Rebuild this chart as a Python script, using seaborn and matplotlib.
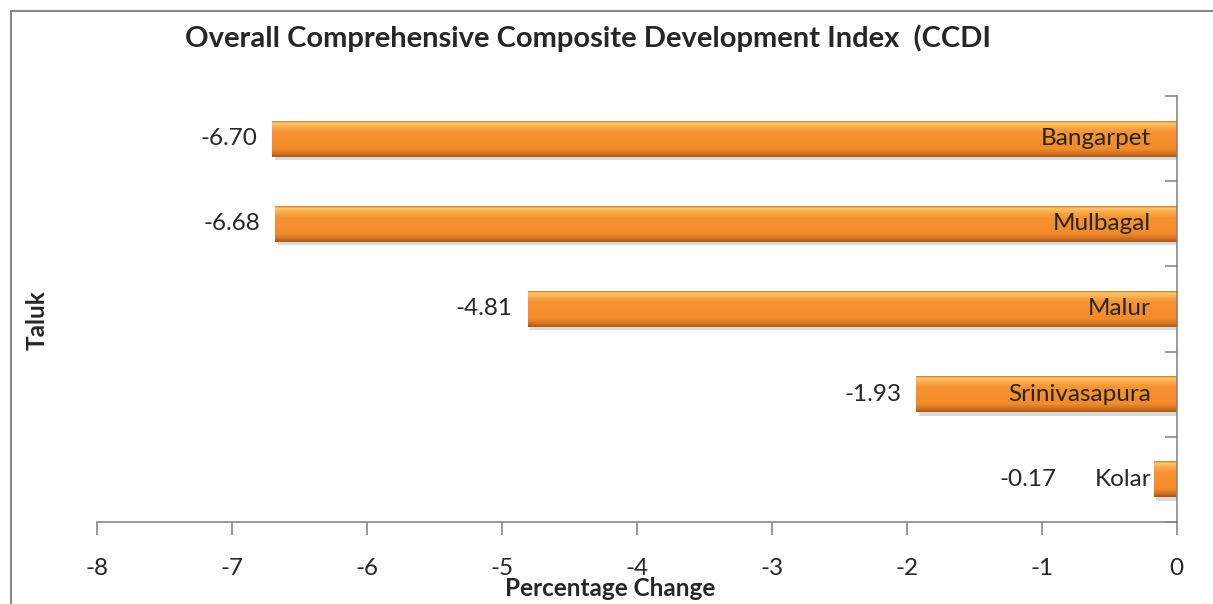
import numpy as np
import pandas as pd
import seaborn as sns
import matplotlib.pyplot as plt
from matplotlib.patches import Rectangle
from matplotlib.colors import LinearSegmentedColormap

# data
taluks = ["Bangarpet", "Mulbagal", "Malur", "Srinivasapura", "Kolar"]
change = [-6.70, -6.68, -4.81, -1.93, -0.17]

df = pd.DataFrame({"Taluk": taluks, "Change": change})

sns.set_style("white")
plt.rcParams['font.family'] = ['Lato', 'DejaVu Sans']

fig = plt.figure(figsize=(12.13, 6.04), dpi=100)
ax = fig.add_axes([0.080, 0.136, 0.890, 0.705])

sns.barplot(data=df, x="Change", y="Taluk", orient="h", color="#F79030",
            width=0.42, edgecolor="none", linewidth=0, ax=ax, saturation=1)

# vertical gradient for the bevelled bars
grad = LinearSegmentedColormap.from_list("bevel", [
    (0.0, "#E07A22"), (0.05, "#FCC96C"), (0.18, "#FAA748"),
    (0.32, "#F79232"), (0.78, "#F28B2A"), (0.9, "#D4741F"), (1.0, "#A85A18")])
col = np.linspace(0, 1, 64).reshape(-1, 1)

for p in list(ax.patches):
    x0, y0 = p.get_x(), p.get_y()
    w, h = p.get_width(), p.get_height()
    # soft shadow under the bar
    ax.add_patch(Rectangle((x0 + 0.02, y0 + h * 0.1), w, h, facecolor="#999999",
                           alpha=0.35, edgecolor="none", zorder=1))
    im = ax.imshow(col, cmap=grad, aspect="auto", origin="upper",
                   extent=(x0, x0 + w, y0 + h, y0), zorder=2)
    im.set_clip_path(p)
    p.set_zorder(2)

ax.set_xlim(-8, 0)
ax.set_ylim(4.5, -0.5)
ax.set_xticks(range(-8, 1))
ax.set_xticklabels([str(v) for v in range(-8, 1)], fontsize=17.5)

# right axis with ticks between categories
ax.yaxis.tick_right()
ax.set_yticks(np.arange(-0.5, 5, 1))
ax.set_yticklabels([])
ax.tick_params(axis="y", direction="in", length=9, color="#888888", width=1.2, right=True, left=False)
ax.tick_params(axis="x", direction="out", length=9, color="#888888", width=1.2, bottom=True, pad=17)

for s in ["top", "left"]:
    ax.spines[s].set_visible(False)
for s in ["right", "bottom"]:
    ax.spines[s].set_color("#888888")
    ax.spines[s].set_linewidth(1.2)
    ax.spines[s].set_zorder(3)

# labels: name inside the bar end, value outside; short bars push the value left
for i, (t, v) in enumerate(zip(taluks, change)):
    vx = v - 0.11 if v < -1 else -0.89
    ax.text(vx, i, f"{v:.2f}", ha="right", va="center", fontsize=17.5)
    ax.text(-0.19, i, t, ha="right", va="center", fontsize=17.5, zorder=4)

ax.set_xlabel("")
ax.set_ylabel("")
fig.text(0.503, 0.026, "Percentage Change", ha="center", va="center",
         fontsize=17.5, fontweight="bold")
fig.text(0.031, 0.47, "Taluk", rotation=90, ha="center", va="center",
         fontsize=17.5, fontweight="bold")

fig.text(0.485, 0.937, "Overall Comprehensive Composite Development Index  (CCDI",
         ha="center", va="center", fontsize=21, fontweight="bold")

# chart area border
fig.patches.append(Rectangle((11 / 1213, -0.05), 1.1, 1 - 11 / 604 + 0.05,
                             transform=fig.transFigure, fill=False,
                             edgecolor="#888888", linewidth=1.5))

fig.savefig("out.png", dpi=100)
